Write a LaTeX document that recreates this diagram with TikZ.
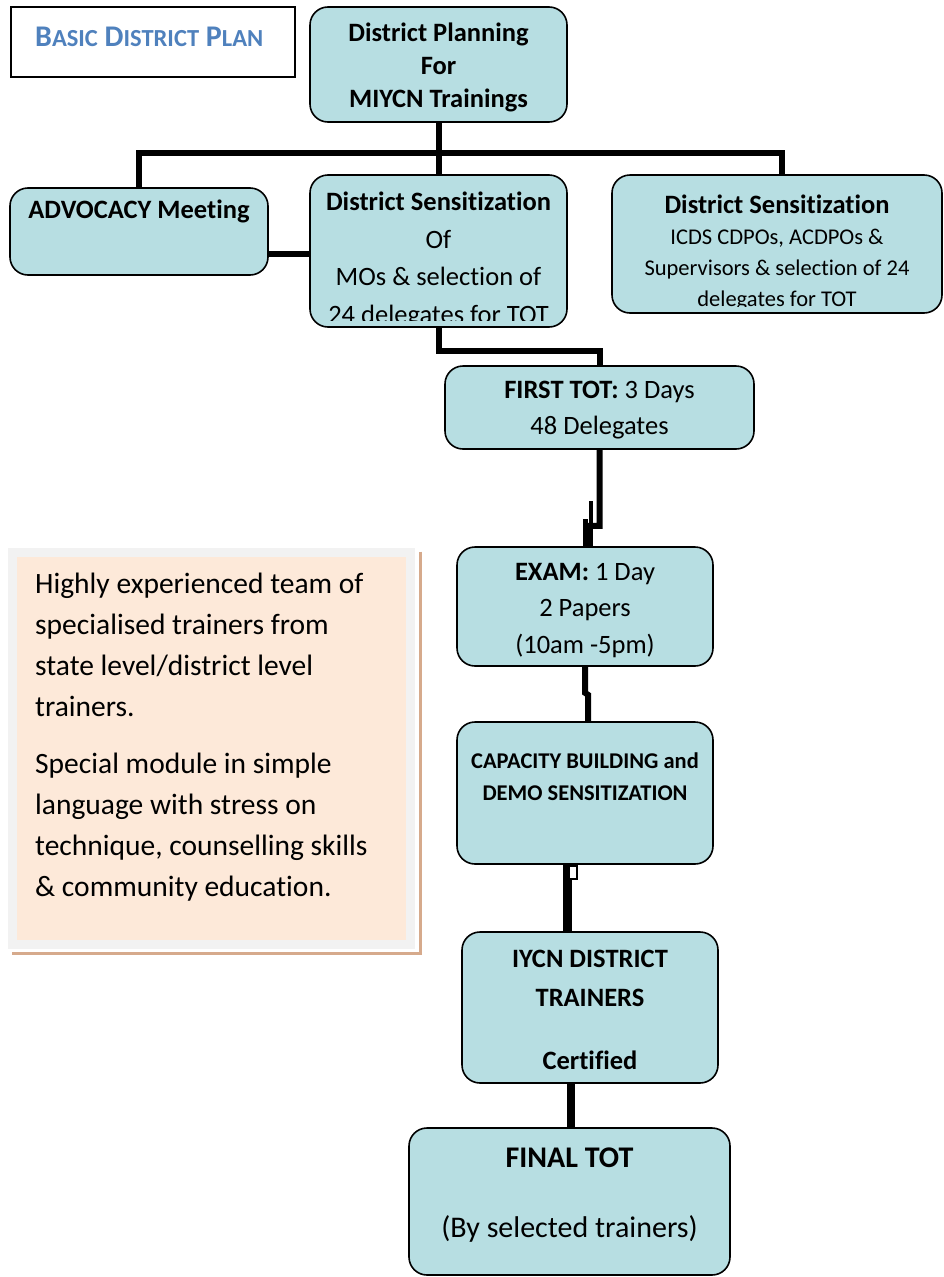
\documentclass[tikz,border=0pt]{standalone}
\usepackage{fontspec}
\setmainfont{Carlito}[Ligatures={NoCommon}]
\usetikzlibrary{positioning,calc}

\definecolor{boxteal}{RGB}{183,222,226}
\definecolor{notepeach}{RGB}{253,233,217}
\definecolor{notegrey}{RGB}{242,242,242}
\definecolor{noteshadow}{RGB}{214,170,140}
\definecolor{titleblue}{RGB}{79,129,189}

\newcommand{\fakesc}[2]{{\fontsize{30}{34}\selectfont #1}{\fontsize{24.5}{34}\selectfont #2}}

\tikzset{
  flowbox/.style={draw=black, line width=1.6pt, fill=boxteal, rounded corners=18pt, inner sep=0pt},
  link/.style={draw=black, line width=6pt},
  boxtext/.style={align=center, inner sep=0pt, font=\fontsize{26.5}{36}\selectfont},
  smalltext/.style={align=center, inner sep=0pt, font=\fontsize{22.5}{31}\selectfont},
  notetext/.style={align=left, inner sep=0pt, font=\fontsize{29.5}{41}\selectfont}
}

\begin{document}
\begin{tikzpicture}[x=1pt,y=-1pt]
  \useasboundingbox (0,0) rectangle (943,1277);

  \node[draw=black, line width=2pt, fill=white, minimum width=284, minimum height=70] (title) at (153,42) {};
  \node[anchor=west, inner sep=0pt, text=titleblue, font=\bfseries\fontsize{30}{34}\selectfont] (titleT) at (35,37)
    {\fakesc{B}{ASIC} \fakesc{D}{ISTRICT} \fakesc{P}{LAN}};

  \node[flowbox, minimum width=257, minimum height=115] (plan) at (438.5,64.5) {};
  \node[boxtext, font=\bfseries\fontsize{26.5}{33}\selectfont] (planT) at (438.5,67.5)
    {District Planning\\For\\MIYCN Trainings};

  \node[flowbox, minimum width=258, minimum height=87] (adv) at (139,231.5) {};
  \node[boxtext, font=\bfseries\fontsize{26.5}{36}\selectfont, below=13pt of adv.north] (advT) {ADVOCACY Meeting};

  \node[flowbox, minimum width=257, minimum height=152] (dsmo) at (438.5,251) {};
  \node[flowbox, minimum width=330, minimum height=138] (dsicds) at (777,244) {};
  \begin{scope}
    \clip ([yshift=7pt]dsmo.south west) rectangle (dsmo.north east);
    \node[boxtext, font=\fontsize{26.5}{37.5}\selectfont] (dsmoT) at (438.5,260)
      {\textbf{District Sensitization}\\Of\\MOs \& selection of\\24 delegates for TOT};
  \end{scope}
  \begin{scope}
    \clip ([yshift=7pt]dsicds.south west) rectangle (dsicds.north east);
    \node[smalltext] (dsicdsT) at (777,253)
      {{\bfseries\fontsize{26.5}{31}\selectfont District Sensitization}\\ICDS CDPOs, ACDPOs \&\\Supervisors \& selection of 24\\delegates for TOT};
  \end{scope}

  \node[flowbox, minimum width=309, minimum height=83] (first) at (599.5,407.5) {};
  \node[boxtext] (firstT) at (599.5,410.5) {\textbf{FIRST TOT:} 3 Days\\48 Delegates};

  \node[flowbox, minimum width=256, minimum height=119] (exam) at (585,606.5) {};
  \node[boxtext, font=\fontsize{26.5}{36.5}\selectfont] (examT) at (585,610.5)
    {\textbf{EXAM:} 1 Day\\2 Papers\\(10am -5pm)};

  \node[flowbox, minimum width=256, minimum height=142] (cap) at (585,793) {};
  \node[smalltext, font=\bfseries\fontsize{22.5}{32}\selectfont, below=31pt of cap.north] (capT)
    {CAPACITY BUILDING and\\DEMO SENSITIZATION};

  \node[flowbox, minimum width=256, minimum height=151] (iycn) at (590,1007.5) {};
  \node[boxtext, font=\bfseries\fontsize{26.5}{39}\selectfont] (iycnT) at (590,1009.5)
    {IYCN DISTRICT\\TRAINERS\\[24pt]Certified};

  \node[flowbox, minimum width=321, minimum height=147] (final) at (569.5,1201.5) {};
  \node[boxtext, font=\fontsize{30}{40}\selectfont] (finalT) at (569.5,1195.5)
    {\textbf{FINAL TOT}\\[30pt](By selected trainers)};

  \node[draw=notegrey, line width=9pt, fill=notepeach, minimum width=398, minimum height=392] (note) at (211.5,748) {};
  \node[notetext, anchor=north west] (noteT) at (35,573)
    {Highly experienced team of\\specialised trainers from\\state level/district level\\trainers.\\[16pt]Special module in simple\\language with stress on\\technique, counselling skills\\\& community education.};
  \draw[noteshadow, line width=3pt] ([xshift=5pt,yshift=-4pt]note.north east) -- ([xshift=5pt,yshift=-5pt]note.south east) -- ([xshift=4pt,yshift=-5pt]note.south west);

  \coordinate (bar) at (438.5,153);
  \draw[link] (plan.south) -- (dsmo.north);
  \draw[link] (adv.north) |- (bar) -| ([xshift=5pt]dsicds.north);
  \draw[link] ([yshift=-22pt]adv.east) -- ([yshift=-22pt]adv.east -| dsmo.west);
  \draw[link] (dsmo.south) -- ++(0,23) -| (first.north);
  \draw[link] (first.south) -- ++(0,76) -- ++(-10,0) -- ([xshift=5pt]exam.north);
  \draw[line width=5pt] (exam.north) -- ++(0,-27);
  \draw[line width=4pt] ([xshift=6pt]exam.north) -- ++(0,-45);
  \draw[link] (exam.south) -- ++(0,26) -- ++(3,2) -- ([xshift=3pt]cap.north);
  \draw[link, line width=9pt] ([xshift=-18pt]cap.south) -- ([xshift=-18pt]cap.south |- iycn.north);
  \draw[line width=2.5pt, fill=white] ([xshift=-16pt,yshift=-1pt]cap.south) rectangle ++(8,13);
  \draw[link, line width=8pt] ([xshift=-19pt]iycn.south) -- ([xshift=-19pt]iycn.south |- final.north);
\end{tikzpicture}
\end{document}
